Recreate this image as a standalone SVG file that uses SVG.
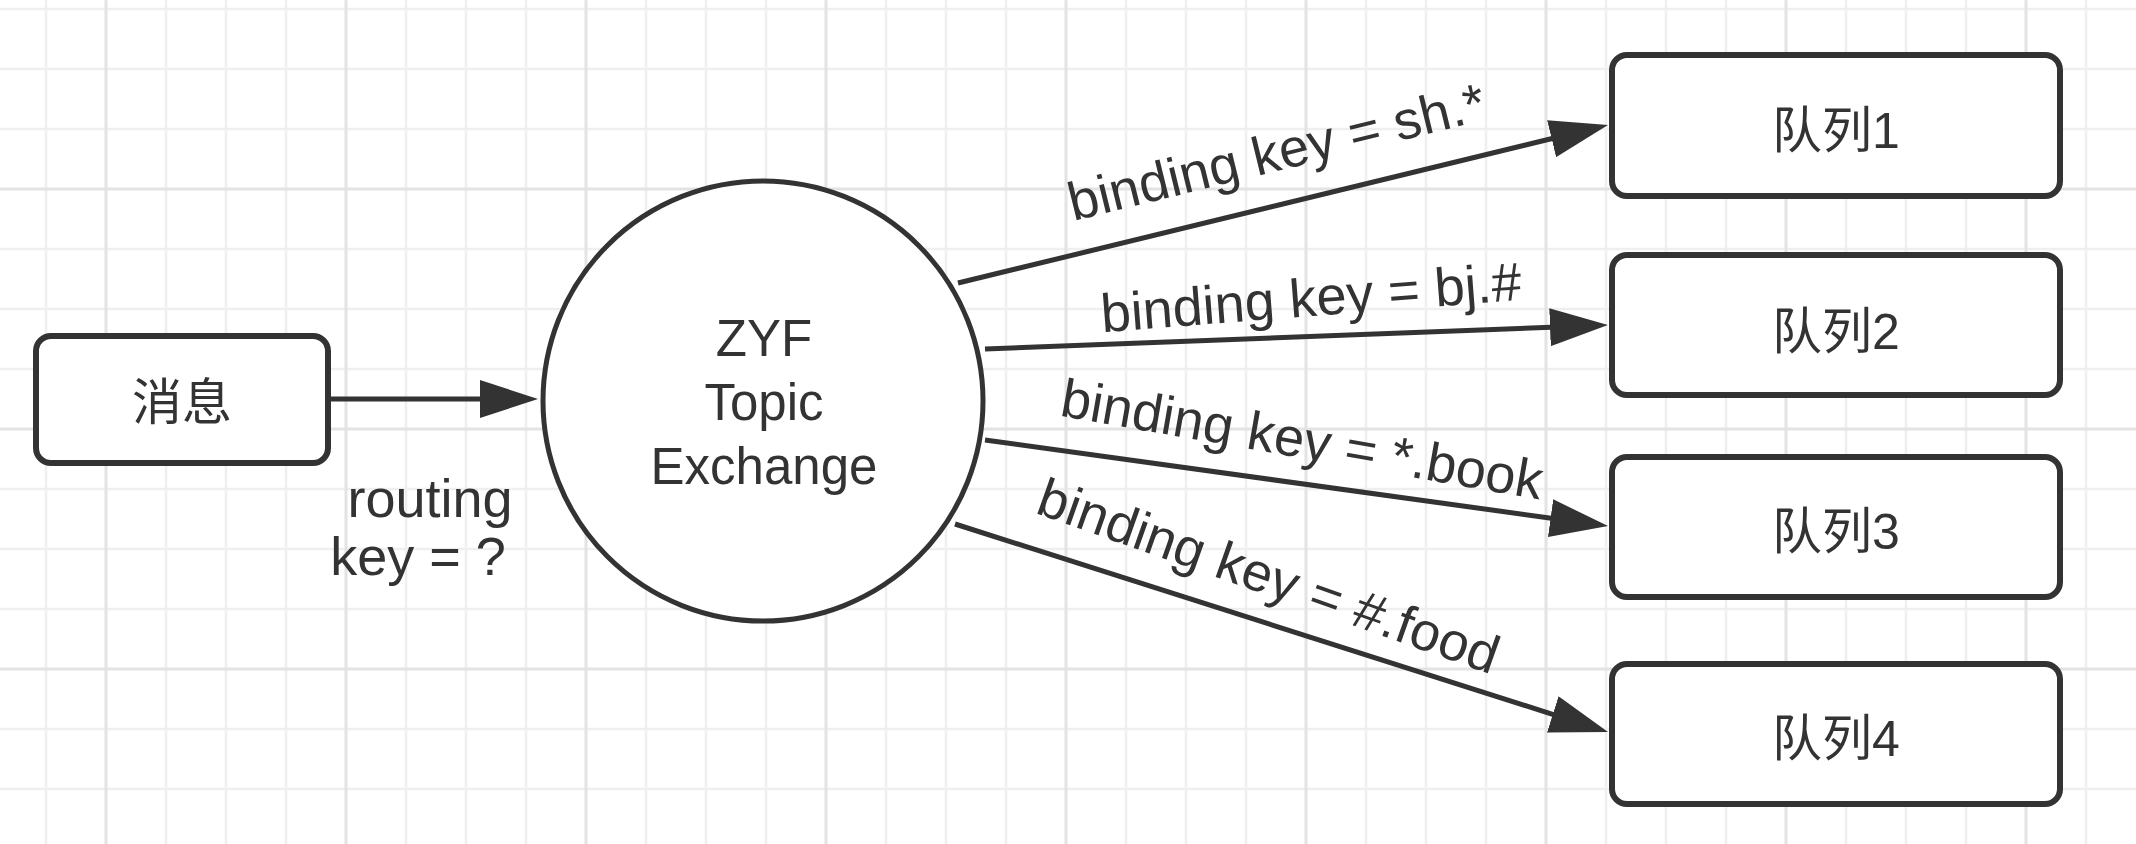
<svg xmlns="http://www.w3.org/2000/svg" width="2136" height="844" viewBox="0 0 2136 844">
<defs>
<style>
.gmin{stroke:#efefef;stroke-width:2.5}
.gmaj{stroke:#e3e3e3;stroke-width:3}
.box{fill:#ffffff;stroke:#333333;stroke-width:6}
.circ{fill:#ffffff;stroke:#333333;stroke-width:5}
.edge{fill:none;stroke:#333333;stroke-width:5}
.lat{font-family:"Liberation Sans",Arial,sans-serif;fill:#333333}
.cjk{font-family:"Liberation Sans","Noto Sans CJK SC",sans-serif;font-size:50px;fill:#333333;text-anchor:middle}
.lbl{font-size:54px;text-anchor:middle}
</style>
<marker id="arr" markerUnits="userSpaceOnUse" viewBox="0 0 58 38" refX="8" refY="19" markerWidth="58" markerHeight="38" orient="auto">
<path d="M0,0 L58,19 L0,38 z" fill="#333333"/>
</marker>
</defs>
<rect width="2136" height="844" fill="#ffffff"/>
<g id="grid">
<g class="gmin">
<path d="M46,0V844M166,0V844M226,0V844M286,0V844M406,0V844M466,0V844M526,0V844M646,0V844M706,0V844M766,0V844M886,0V844M946,0V844M1006,0V844M1126,0V844M1186,0V844M1246,0V844M1366,0V844M1426,0V844M1486,0V844M1606,0V844M1666,0V844M1726,0V844M1846,0V844M1906,0V844M1966,0V844M2086,0V844"/>
<path d="M0,9H2136M0,69H2136M0,129H2136M0,249H2136M0,309H2136M0,369H2136M0,489H2136M0,549H2136M0,609H2136M0,729H2136M0,789H2136"/>
</g>
<g class="gmaj">
<path d="M106,0V844M346,0V844M586,0V844M826,0V844M1066,0V844M1306,0V844M1546,0V844M1786,0V844M2026,0V844"/>
<path d="M0,189H2136M0,429H2136M0,669H2136"/>
</g>
</g>
<g id="connectors">
<path class="edge" d="M331,399 L488,399" marker-end="url(#arr)"/>
<path class="edge" d="M958,283 L1559.4,136.8" marker-end="url(#arr)"/>
<path class="edge" d="M985,349 L1558,326.9" marker-end="url(#arr)"/>
<path class="edge" d="M985,440 L1558.5,519.2" marker-end="url(#arr)"/>
<path class="edge" d="M955,524 L1560.4,716.8" marker-end="url(#arr)"/>
<text class="lat lbl" x="1281" y="170" transform="rotate(-13.8 1281 170)">binding key = sh.*</text>
<text class="lat lbl" x="1312.5" y="316" transform="rotate(-4.4 1312.5 316)">binding key = bj.#</text>
<text class="lat lbl" x="1299" y="457.5" transform="rotate(9.9 1299 457.5)">binding key = *.book</text>
<text class="lat lbl" x="1262.5" y="593.5" transform="rotate(19.5 1262.5 593.5)">binding key = #.food</text>
<text class="lat" font-size="54" x="430" y="517" text-anchor="middle">routing</text>
<text class="lat" font-size="54" x="418" y="575" text-anchor="middle">key = ?</text>
</g>
<g id="msg">
<rect class="box" x="36" y="336" width="292" height="127" rx="15"/>
<text class="cjk" x="182" y="420">消息</text>
</g>
<g id="exchange">
<circle class="circ" cx="763" cy="401" r="220"/>
<text class="lat" font-size="51" text-anchor="middle" x="764" y="356">ZYF</text>
<text class="lat" font-size="51" text-anchor="middle" x="764" y="420">Topic</text>
<text class="lat" font-size="51" text-anchor="middle" x="764" y="484">Exchange</text>
</g>
<g id="q1">
<rect class="box" x="1612" y="55" width="448" height="141" rx="15"/>
<text class="cjk" x="1836" y="148">队列1</text>
</g>
<g id="q2">
<rect class="box" x="1612" y="255" width="448" height="140" rx="15"/>
<text class="cjk" x="1836" y="349">队列2</text>
</g>
<g id="q3">
<rect class="box" x="1612" y="457" width="448" height="140" rx="15"/>
<text class="cjk" x="1836" y="549">队列3</text>
</g>
<g id="q4">
<rect class="box" x="1612" y="664" width="448" height="140" rx="15"/>
<text class="cjk" x="1836" y="756">队列4</text>
</g>
</svg>
